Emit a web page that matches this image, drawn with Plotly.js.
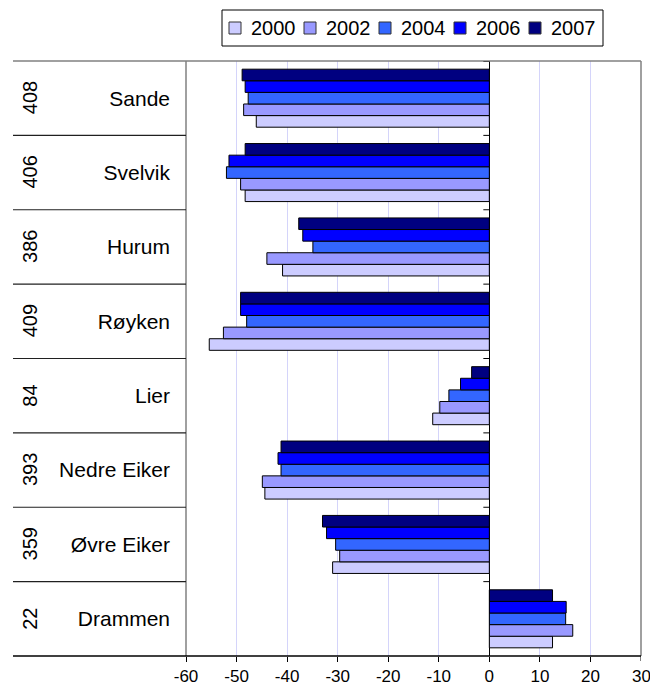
<!DOCTYPE html>
<html>
<head>
<meta charset="utf-8">
<script src="https://cdn.plot.ly/plotly-3.0.1.min.js"></script>
<style>html,body{margin:0;padding:0;background:#fff;}#chart{width:650px;height:691px;}</style>
</head>
<body>
<div id="chart"></div>
<script>
// Categories, top to bottom as in the chart
const names = ["Sande", "Svelvik", "Hurum", "Røyken", "Lier", "Nedre Eiker", "Øvre Eiker", "Drammen"];
const codes = ["408", "406", "386", "409", "84", "393", "359", "22"];
const years = ["2000", "2002", "2004", "2006", "2007"];
const colors = ["#CCCCFF", "#9999FF", "#3366FF", "#0000FF", "#000080"];

// Values per year, in the same order as names
const v2000 = [-46.1, -48.3, -40.9, -55.4, -11.2, -44.4, -31.0, 12.5];
const v2002 = [-48.6, -49.2, -44.0, -52.6, -9.8, -44.9, -29.6, 16.5];
const v2004 = [-47.7, -52.0, -34.9, -48.0, -8.0, -41.2, -30.4, 15.1];
const v2006 = [-48.3, -51.5, -36.9, -49.2, -5.7, -41.8, -32.2, 15.2];
const v2007 = [-48.9, -48.3, -37.7, -49.2, -3.5, -41.2, -33.0, 12.5];
const series = [v2000, v2002, v2004, v2006, v2007];

const xTicks = [-60, -50, -40, -30, -20, -10, 0, 10, 20, 30];

const FONT = "Liberation Sans, Arial, sans-serif";

const traces = series.map((vals, i) => ({
  type: "bar",
  orientation: "h",
  name: years[i],
  x: vals,
  y: names,
  marker: { color: colors[i], line: { color: "#000000", width: 1 } },
  hoverinfo: "x+y+name"
}));

// geometry helpers (pixel -> paper coords)
const L = 186, R = 9, T = 61, B = 35, W = 650, H = 691;
const pw = W - L - R, ph = H - T - B;
const px = (p) => (p - L) / pw;
const py = (p) => 1 - (p - T) / ph;
const leftEdge = px(13);

const shapes = [];
shapes.push({type: "line", xref: "paper", yref: "paper", x0: leftEdge, x1: 1, y0: 1, y1: 1, line: {color: "#808080", width: 1.5}});
shapes.push({type: "line", xref: "paper", yref: "paper", x0: 1, x1: 1, y0: 0, y1: 1, line: {color: "#808080", width: 1.5}});
shapes.push({type: "line", xref: "paper", yref: "paper", x0: 0, x1: 0, y0: 0, y1: 1, line: {color: "#808080", width: 1.5}});
shapes.push({type: "line", xref: "paper", yref: "paper", x0: leftEdge, x1: 1, y0: 0, y1: 0, line: {color: "#000000", width: 1.5}});
for (let k = 0; k < names.length - 1; k++) {
  const yb = k + 0.5;
  shapes.push({type: "line", xref: "paper", yref: "y", x0: leftEdge, x1: 0, y0: yb, y1: yb, line: {color: "#202020", width: 1.2}});
}
for (let k = 0; k < names.length; k++) {
  const yb = k + 0.5;
  shapes.push({type: "line", xref: "x", yref: "y", xsizemode: "pixel", xanchor: 0, x0: -6, x1: 0, y0: yb, y1: yb, line: {color: "#000000", width: 1}});
}
// tick mark for the right edge value
shapes.push({type: "line", xref: "x", yref: "paper", x0: 30, x1: 30, ysizemode: "pixel", yanchor: 0, y0: -5, y1: 0, line: {color: "#000", width: 1}});

const annotations = names.map((n, i) => ({
  xref: "paper", yref: "y",
  x: px(30), y: n,
  text: codes[i],
  textangle: -90,
  showarrow: false,
  font: {family: FONT, size: 20, color: "#000"},
  xanchor: "center", yanchor: "middle"
}));
// the rightmost tick label, which sits on the plot edge
annotations.push({
  xref: "x", yref: "paper", x: 30, y: 0, yshift: -9,
  text: "30", showarrow: false,
  font: {family: FONT, size: 17, color: "#000"},
  xanchor: "center", yanchor: "top"
});

// Legend box (drawn to match the original's compact Excel-style legend)
shapes.push({type: "rect", xref: "paper", yref: "paper", x0: px(222), x1: px(603), y0: py(46), y1: py(10), line: {color: "#000", width: 1}, fillcolor: "#fff"});
years.forEach((yr, i) => {
  const bx = 229 + 75 * i;
  shapes.push({type: "rect", xref: "paper", yref: "paper", x0: px(bx), x1: px(bx + 12), y0: py(34), y1: py(22), line: {color: "#333", width: 1}, fillcolor: colors[i]});
  annotations.push({
    xref: "paper", yref: "paper", x: px(bx + 20), y: py(28.5),
    text: yr, showarrow: false,
    font: {family: FONT, size: 20, color: "#000"},
    xanchor: "left", yanchor: "middle"
  });
});

const layout = {
  width: W, height: H,
  margin: {l: L, r: R, t: T, b: B, pad: 0},
  paper_bgcolor: "#ffffff",
  plot_bgcolor: "#ffffff",
  font: {family: FONT, color: "#000"},
  barmode: "group",
  bargap: 0.22,
  bargroupgap: 0,
  showlegend: false,
  xaxis: {
    range: [-60, 30],
    tickmode: "array",
    tickvals: xTicks.slice(0, -1),
    ticktext: xTicks.slice(0, -1).map(String),
    ticks: "outside", ticklen: 5, tickcolor: "#000", tickwidth: 1,
    showgrid: true, gridcolor: "#D4D4FA", gridwidth: 1,
    zeroline: true, zerolinecolor: "#000", zerolinewidth: 1.5,
    showline: false,
    tickfont: {family: FONT, size: 17, color: "#000"},
    fixedrange: true
  },
  yaxis: {
    type: "category",
    categoryorder: "array",
    categoryarray: names.slice().reverse(),
    range: [-0.5, names.length - 0.5],
    showgrid: false, zeroline: false, showline: false,
    ticks: "",
    ticklabelstandoff: 15,
    tickfont: {family: FONT, size: 21, color: "#000"},
    fixedrange: true
  },
  shapes: shapes,
  annotations: annotations
};

Plotly.newPlot("chart", traces, layout, {displayModeBar: false, staticPlot: true});
</script>
</body>
</html>
